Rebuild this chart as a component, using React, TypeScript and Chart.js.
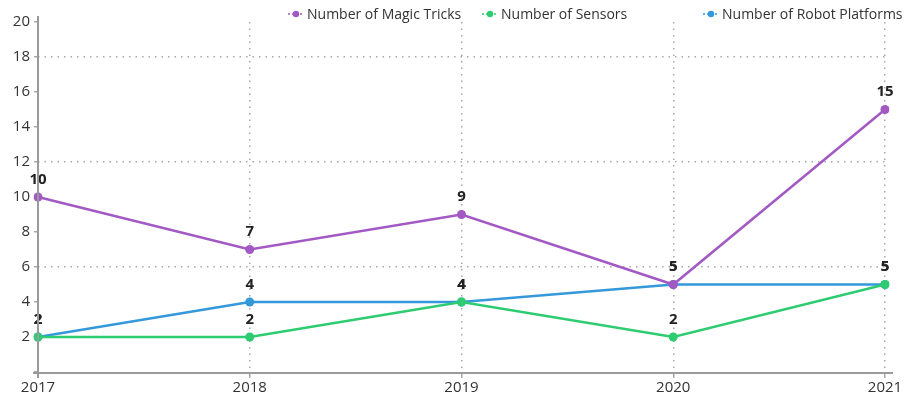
import React, { useEffect, useRef } from "react";
import { Chart, registerables } from "chart.js";

Chart.register(...registerables);

const years = ["2017", "2018", "2019", "2020", "2021"];
const magicTricks = [10, 7, 9, 5, 15];
const sensors = [2, 2, 4, 2, 5];
const robotPlatforms = [2, 4, 4, 5, 5];
const seriesNames = ["Number of Magic Tricks", "Number of Sensors", "Number of Robot Platforms"];
const seriesColors = ["#a259c4", "#2ecc71", "#3498db"];
const yMin = 0;
const yMax = 20;
const yStep = 2;
const gridEvery = [6, 12, 18];

const FONT = "'Open Sans', 'Noto Sans', sans-serif";

const labelsPlugin = {
  id: "valueLabels",
  afterDatasetsDraw(chart: any) {
    const ctx = chart.ctx;
    ctx.save();
    ctx.font = `bold 15px ${FONT}`;
    ctx.fillStyle = "#222";
    ctx.textAlign = "center";
    ctx.textBaseline = "bottom";
    chart.data.datasets.forEach((ds: any, i: number) => {
      const meta = chart.getDatasetMeta(i);
      meta.data.forEach((pt: any, j: number) => {
        ctx.fillText(String(ds.data[j]), pt.x, pt.y - 10);
      });
    });
    ctx.restore();
  },
};

const axesPlugin = {
  id: "axesLines",
  afterDraw(chart: any) {
    const ctx = chart.ctx;
    const a = chart.chartArea;
    ctx.save();
    ctx.strokeStyle = "#9a9a9a";
    ctx.lineWidth = 2;
    ctx.beginPath();
    ctx.moveTo(a.left, a.top - 6);
    ctx.lineTo(a.left, a.bottom + 6);
    ctx.moveTo(a.left - 5, a.bottom + 1);
    ctx.lineTo(a.right + 8, a.bottom + 1);
    ctx.stroke();
    ctx.restore();
  },
};

const legendPlugin = {
  id: "customLegend",
  afterDraw(chart: any) {
    const ctx = chart.ctx;
    const starts = [288, 482, 703];
    ctx.save();
    ctx.font = `14px ${FONT}`;
    ctx.textBaseline = "middle";
    ctx.textAlign = "left";
    seriesNames.forEach((name, i) => {
      const x = starts[i];
      const y = 14;
      const c = seriesColors[i];
      ctx.strokeStyle = c;
      ctx.lineWidth = 1.5;
      ctx.setLineDash([2, 2]);
      ctx.beginPath();
      ctx.moveTo(x, y);
      ctx.lineTo(x + 16, y);
      ctx.stroke();
      ctx.setLineDash([]);
      ctx.fillStyle = c;
      ctx.beginPath();
      ctx.arc(x + 8, y, 3.2, 0, Math.PI * 2);
      ctx.fill();
      ctx.fillStyle = "#333";
      ctx.fillText(name, x + 19, y + 1);
    });
    ctx.restore();
  },
};

export default function App() {
  const ref = useRef<HTMLCanvasElement>(null);
  useEffect(() => {
    const dataArrays = [magicTricks, sensors, robotPlatforms];
    const chart = new Chart(ref.current!, {
      type: "line",
      data: {
        labels: years,
        datasets: seriesNames.map((name, i) => ({
          label: name,
          data: dataArrays[i],
          borderColor: seriesColors[i],
          backgroundColor: seriesColors[i],
          borderWidth: 2.5,
          pointRadius: 4.5,
          pointBorderWidth: 0,
          pointHoverRadius: 4.5,
          tension: 0,
          fill: false,
        })),
      },
      options: {
        animation: false,
        responsive: false,
        maintainAspectRatio: false,
        layout: { padding: { top: 22, right: 22, left: 0, bottom: 0 } },
        plugins: {
          legend: { display: false },
          tooltip: { enabled: false },
        },
        scales: {
          x: {
            offset: false,
            border: { display: false, dash: [1.5, 5] },
            grid: {
              color: (c: any) => (c.index === 0 ? "rgba(0,0,0,0)" : "#a8a8a8"),
              lineWidth: 1.5,
              tickColor: "#a8a8a8",
              tickLength: 6,
            },
            ticks: {
              color: "#333",
              font: { family: FONT, size: 15 },
              padding: 1,
              maxRotation: 0,
            },
            afterFit: (s: any) => {
              s.height = 32;
            },
          } as any,
          y: {
            min: yMin,
            max: yMax,
            border: { display: false, dash: [1.5, 5] },
            grid: {
              color: (c: any) =>
                c.tick && gridEvery.includes(c.tick.value) ? "#a8a8a8" : "rgba(0,0,0,0)",
              lineWidth: 1.5,
              tickColor: "#a8a8a8",
              tickLength: 4,
            },
            ticks: {
              stepSize: yStep,
              color: "#333",
              font: { family: FONT, size: 15 },
              padding: 4,
              callback: (v: any) => (v === 0 ? "" : String(v)),
            },
            afterFit: (s: any) => {
              s.width = 38;
            },
          },
        },
      },
      plugins: [axesPlugin, labelsPlugin, legendPlugin],
    });
    return () => chart.destroy();
  }, []);
  return (
    <div style={{ position: "fixed", left: 0, top: 0, width: 907, height: 404, background: "#fff" }}>
      <canvas ref={ref} width={907} height={404} style={{ width: 907, height: 404 }} />
    </div>
  );
}
